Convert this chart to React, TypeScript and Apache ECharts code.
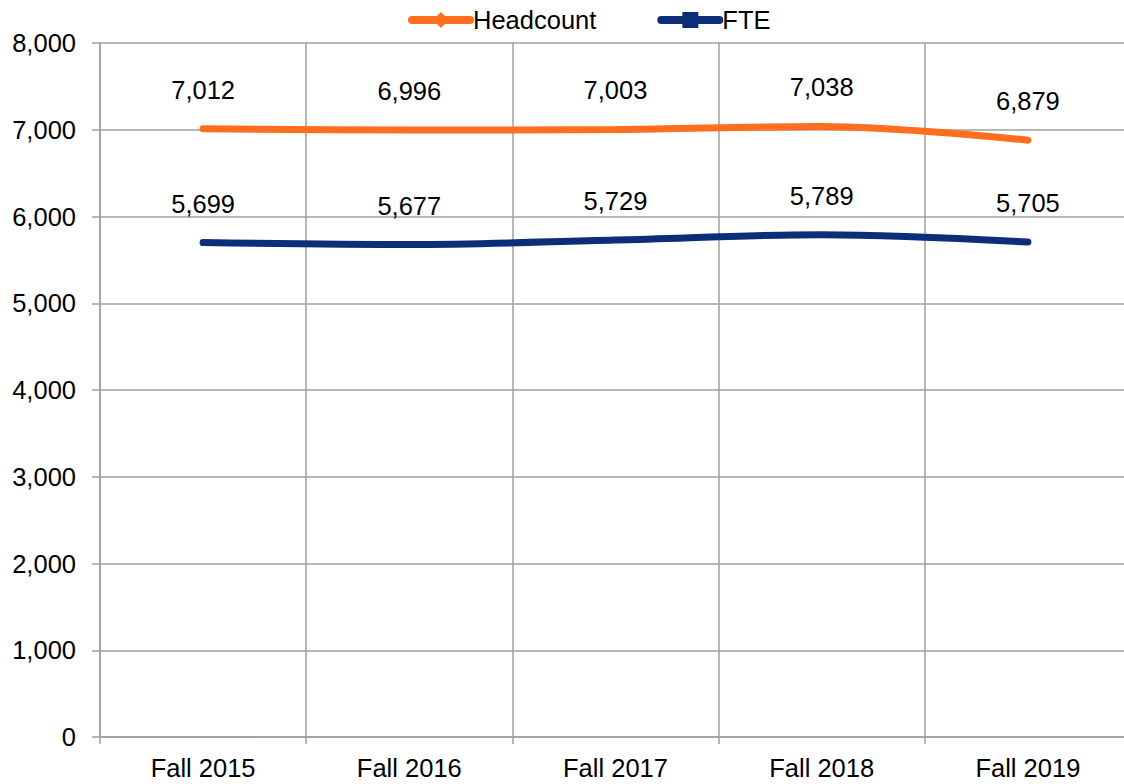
import React, { useEffect, useRef } from "react";
import * as echarts from "echarts";

const categories = ["Fall 2015", "Fall 2016", "Fall 2017", "Fall 2018", "Fall 2019"];
const headcount = [7012, 6996, 7003, 7038, 6879];
const fte = [5699, 5677, 5729, 5789, 5705];
const yTicks = { min: 0, max: 8000, interval: 1000 };

const FONT = "'Liberation Sans', Arial, sans-serif";
const ORANGE = "#FF6E1F";
const NAVY = "#0C2D77";
const GRID = "#9f9f9f";
const FS = 25.5;

export default function App() {
  const ref = useRef<HTMLDivElement>(null);
  useEffect(() => {
    if (!ref.current) return;
    const chart = echarts.init(ref.current, null, { renderer: "svg" });
    const fmt = (v: number) => v.toLocaleString("en-US");
    const label = {
      show: true,
      position: "top",
      distance: 26,
      color: "#000",
      fontSize: FS,
      fontFamily: FONT,
      formatter: (p: any) => fmt(p.value),
    };
    chart.setOption({
      animation: false,
      textStyle: { fontFamily: FONT },
      legend: {
        top: 2,
        left: 403,
        itemWidth: 58,
        itemHeight: 20,
        itemGap: 61,
        lineStyle: { width: 8, cap: "round" },
        textStyle: { fontSize: FS, color: "#000", fontFamily: FONT, padding: [0, 0, 0, -2] },
        data: ["Headcount", "FTE"],
      },
      grid: { left: 100, right: 0, top: 43, bottom: 47, containLabel: false },
      xAxis: {
        type: "category",
        data: categories,
        boundaryGap: true,
        axisLine: { lineStyle: { color: GRID, width: 1.5 } },
        axisTick: { show: true, length: 7, lineStyle: { color: GRID, width: 1.5 } },
        splitLine: { show: true, lineStyle: { color: GRID, width: 1.5 } },
        axisLabel: { fontSize: FS, color: "#000", fontFamily: FONT, margin: 18 },
      },
      yAxis: {
        type: "value",
        min: yTicks.min,
        max: yTicks.max,
        interval: yTicks.interval,
        axisLine: { show: true, lineStyle: { color: GRID, width: 1.5 } },
        axisTick: { show: true, length: 8, lineStyle: { color: GRID, width: 1.5 } },
        splitLine: { show: true, lineStyle: { color: GRID, width: 1.5 } },
        axisLabel: { fontSize: FS, color: "#000", fontFamily: FONT, margin: 24, formatter: (v: number) => fmt(v) },
      },
      series: [
        {
          name: "Headcount",
          type: "line",
          data: headcount,
          smooth: 0.35,
          symbol: "diamond",
          symbolSize: 0,
          itemStyle: { color: ORANGE },
          lineStyle: { color: ORANGE, width: 7, cap: "round" },
          label,
        },
        {
          name: "FTE",
          type: "line",
          data: fte,
          smooth: 0.35,
          symbol: "rect",
          symbolSize: 0,
          itemStyle: { color: NAVY },
          lineStyle: { color: NAVY, width: 7, cap: "round" },
          label,
        },
      ],
    });
    return () => chart.dispose();
  }, []);
  return (
    <div style={{ position: "absolute", left: 0, top: 0, width: 1124, height: 784, overflow: "hidden", background: "#fff" }}>
      <div ref={ref} style={{ width: 1131, height: 784 }} />
    </div>
  );
}
